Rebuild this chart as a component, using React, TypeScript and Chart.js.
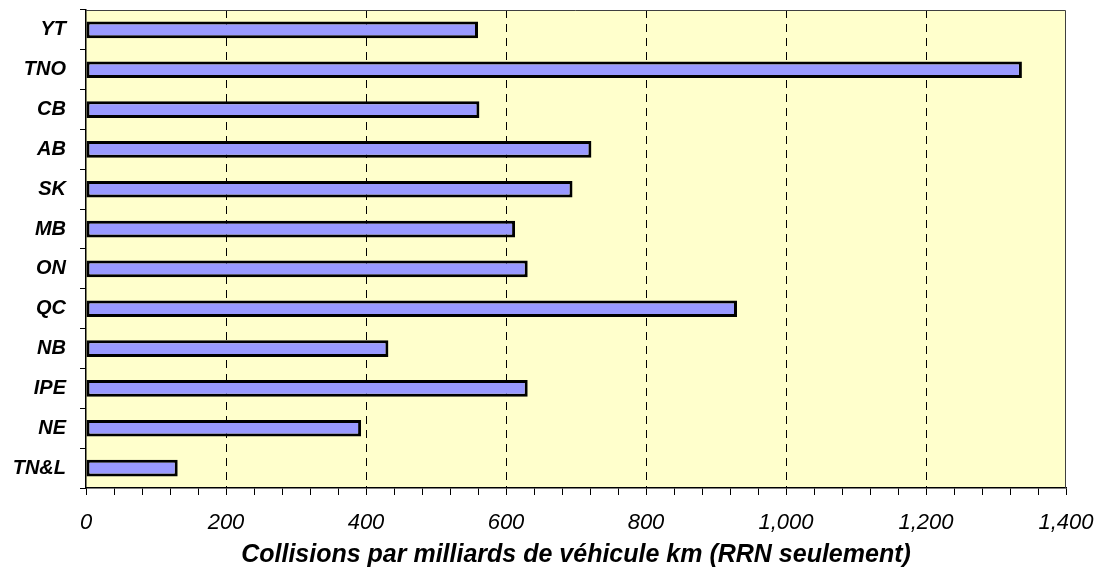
import React, { useEffect, useRef } from "react";
import { Chart, registerables } from "chart.js";

Chart.register(...registerables);

const categories = ["YT", "TNO", "CB", "AB", "SK", "MB", "ON", "QC", "NB", "IPE", "NE", "TN&L"];
const values = [560, 1337, 562, 722, 695, 613, 631, 930, 432, 631, 393, 131];
const xMin = 0;
const xMax = 1400;
const majorStep = 200;
const minorStep = 40;
const xTitle = "Collisions par milliards de véhicule km (RRN seulement)";

const FONT = "Arial, 'Liberation Sans', Helvetica, sans-serif";

const bgPlugin = {
  id: "plotBg",
  beforeDraw(chart: any) {
    const { ctx, chartArea } = chart;
    if (!chartArea) return;
    ctx.save();
    ctx.fillStyle = "#FFFFCC";
    ctx.fillRect(chartArea.left, chartArea.top, chartArea.right - chartArea.left, chartArea.bottom - chartArea.top);
    ctx.restore();
  },
  afterDatasetsDraw(chart: any) {
    const { ctx, chartArea } = chart;
    ctx.save();
    ctx.strokeStyle = "#404040";
    ctx.lineWidth = 1;
    ctx.beginPath();
    ctx.moveTo(chartArea.left, chartArea.top + 0.5);
    ctx.lineTo(chartArea.right - 0.5, chartArea.top + 0.5);
    ctx.lineTo(chartArea.right - 0.5, chartArea.bottom);
    ctx.stroke();
    ctx.restore();
  },
};

export default function App() {
  const ref = useRef<HTMLCanvasElement>(null);
  useEffect(() => {
    document.body.style.margin = "0";
    const chart = new Chart(ref.current as HTMLCanvasElement, {
      type: "bar",
      data: {
        labels: categories,
        datasets: [
          {
            data: values,
            backgroundColor: "#9999FF",
            borderColor: "#000000",
            borderWidth: 3,
            barPercentage: 0.42,
            categoryPercentage: 1,
            borderSkipped: false,
          },
        ],
      },
      options: {
        indexAxis: "y",
        animation: false,
        responsive: false,
        maintainAspectRatio: false,
        layout: { padding: { top: 10, right: 35, left: 0, bottom: 0 } },
        plugins: { legend: { display: false }, tooltip: { enabled: false } },
        scales: {
          x: {
            type: "linear",
            min: xMin,
            max: xMax,
            afterFit: (s: any) => {
              s.height = 83;
              s.paddingLeft = 0;
              s.paddingRight = 0;
            },
            ticks: {
              stepSize: minorStep,
              autoSkip: false,
              maxRotation: 0,
              padding: 15,
              color: "#000",
              font: { family: FONT, size: 22, style: "italic" },
              callback: (v: any) => (Number(v) % majorStep === 0 ? Number(v).toLocaleString("en-US") : ""),
            },
            grid: {
              color: (ctx: any) => {
                const v = ctx.tick ? ctx.tick.value : 0;
                return v % majorStep === 0 && v !== xMin && v !== xMax ? "#000" : "rgba(0,0,0,0)";
              },
              tickColor: "#000",
              tickLength: 7,
              lineWidth: 1,
            },
            border: { display: true, color: "#000", width: 1.5, dash: [8, 6] },
            title: {
              display: true,
              text: xTitle,
              color: "#000",
              font: { family: FONT, size: 25, style: "italic", weight: "bold" },
              padding: { top: 0, bottom: 1 },
            },
          },
          y: {
            afterFit: (s: any) => {
              s.width = 86;
              s.paddingTop = 0;
              s.paddingBottom = 0;
            },
            ticks: {
              padding: 14,
              color: "#000",
              font: { family: FONT, size: 20, style: "italic", weight: "bold" },
            },
            grid: {
              drawOnChartArea: false,
              offset: true,
              tickLength: 6,
              color: "#000",
              tickColor: "#000",
            },
            border: { display: true, color: "#000", width: 1.5 },
          },
        },
      },
      plugins: [bgPlugin],
    } as any);
    return () => chart.destroy();
  }, []);
  return (
    <div style={{ width: 1101, height: 571 }}>
      <canvas ref={ref} width={1101} height={571} style={{ display: "block" }} />
    </div>
  );
}
